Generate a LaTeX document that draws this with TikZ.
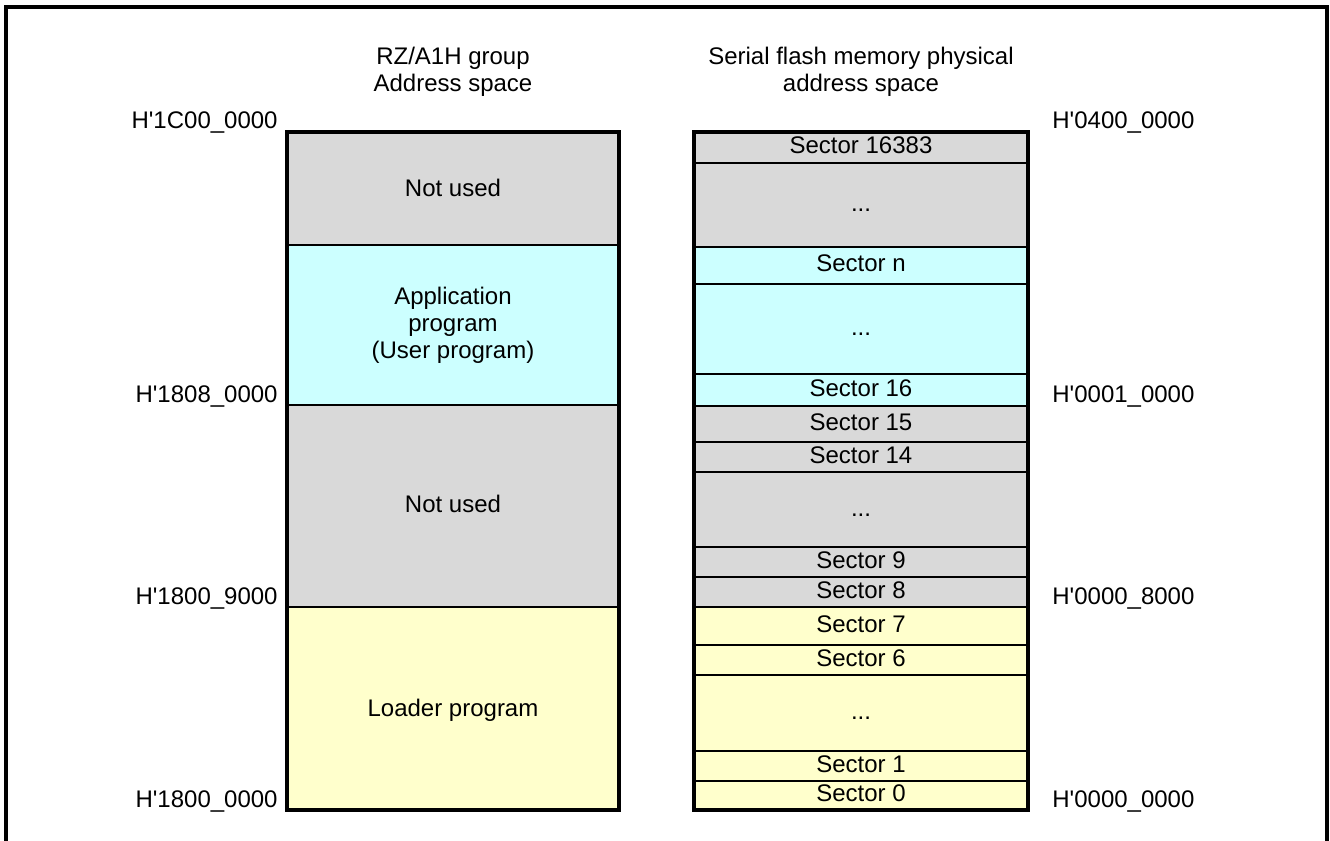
\documentclass[tikz,border=0pt]{standalone}
\usepackage{fontspec}
\setmainfont{Liberation Sans}
\definecolor{notused}{HTML}{D9D9D9}
\definecolor{appprog}{HTML}{CCFFFF}
\definecolor{ldrprog}{HTML}{FFFFCC}
\newcommand{\hq}{H\textquotesingle}
\begin{document}
\begin{tikzpicture}[x=0.5pt,y=-0.5pt,
  every node/.style={font=\fontsize{12}{13.6}\selectfont},
  cell/.style={draw,line width=0.9pt},
  sec/.style={text height=1.5ex,text depth=.25ex},
  outer/.style={draw,line width=1.7pt},
  addrl/.style={anchor=base east,inner sep=0pt},
  addrr/.style={anchor=base west,inner sep=0pt}]
 \useasboundingbox (0,0) rectangle (1330,841);
 \draw[line width=1.6pt](6,841)--(6,7)--(1327,7)--(1327,841);
 % headers
 \node[align=center] (hdrcpu) at (453,72) {RZ/A1H group\\Address space};
 \node[align=center] (hdrspi) at (861,72) {Serial flash memory physical\\address space};
 % RZ/A1H address space
 \draw[cell,fill=notused](287,132) rectangle (619,245);
 \draw[cell,fill=appprog](287,245) rectangle (619,405);
 \draw[cell,fill=notused](287,405) rectangle (619,607);
 \draw[cell,fill=ldrprog](287,607) rectangle (619,810);
 \draw[outer](287,132) rectangle (619,810);
 \node (nu1) at (453,188) {Not used};
 \node[align=center] (app) at (453,325) {Application\\program\\(User program)};
 \node (nu2) at (453,504) {Not used};
 \node (ldr) at (453,710) {Loader program};
 \node[addrl] (a1c) at (278,128) {\hq1C00\_0000};
 \node[addrl] (a1808) at (278,402) {\hq1808\_0000};
 \node[addrl] (a1809) at (278,604) {\hq1800\_9000};
 \node[addrl] (a1800) at (278,807) {\hq1800\_0000};
 % serial flash sectors
 \draw[cell,fill=notused](694,132) rectangle (1028,163);
 \draw[cell,fill=notused](694,163) rectangle (1028,247);
 \draw[cell,fill=appprog](694,247) rectangle (1028,284);
 \draw[cell,fill=appprog](694,284) rectangle (1028,374);
 \draw[cell,fill=appprog](694,374) rectangle (1028,406);
 \draw[cell,fill=notused](694,406) rectangle (1028,442);
 \draw[cell,fill=notused](694,442) rectangle (1028,472);
 \draw[cell,fill=notused](694,472) rectangle (1028,547);
 \draw[cell,fill=notused](694,547) rectangle (1028,577);
 \draw[cell,fill=notused](694,577) rectangle (1028,607);
 \draw[cell,fill=ldrprog](694,607) rectangle (1028,645);
 \draw[cell,fill=ldrprog](694,645) rectangle (1028,675);
 \draw[cell,fill=ldrprog](694,675) rectangle (1028,751);
 \draw[cell,fill=ldrprog](694,751) rectangle (1028,781);
 \draw[cell,fill=ldrprog](694,781) rectangle (1028,810);
 \draw[outer](694,132) rectangle (1028,810);
 \node[sec] (s16383) at (861,147) {Sector 16383};
 \node[sec] (dots1) at (861,205) {...};
 \node[sec] (sn) at (861,265) {Sector n};
 \node[sec] (dots2) at (861,329) {...};
 \node[sec] (s16) at (861,390) {Sector 16};
 \node[sec] (s15) at (861,424) {Sector 15};
 \node[sec] (s14) at (861,457) {Sector 14};
 \node[sec] (dots3) at (861,510) {...};
 \node[sec] (s9) at (861,562) {Sector 9};
 \node[sec] (s8) at (861,592) {Sector 8};
 \node[sec] (s7) at (861,626) {Sector 7};
 \node[sec] (s6) at (861,660) {Sector 6};
 \node[sec] (dots4) at (861,713) {...};
 \node[sec] (s1) at (861,766) {Sector 1};
 \node[sec] (s0) at (861,795) {Sector 0};
 \node[addrr] (b0400) at (1052,128) {\hq0400\_0000};
 \node[addrr] (b0001) at (1052,402) {\hq0001\_0000};
 \node[addrr] (b8000) at (1052,604) {\hq0000\_8000};
 \node[addrr] (b0000) at (1052,807) {\hq0000\_0000};
\end{tikzpicture}
\end{document}
